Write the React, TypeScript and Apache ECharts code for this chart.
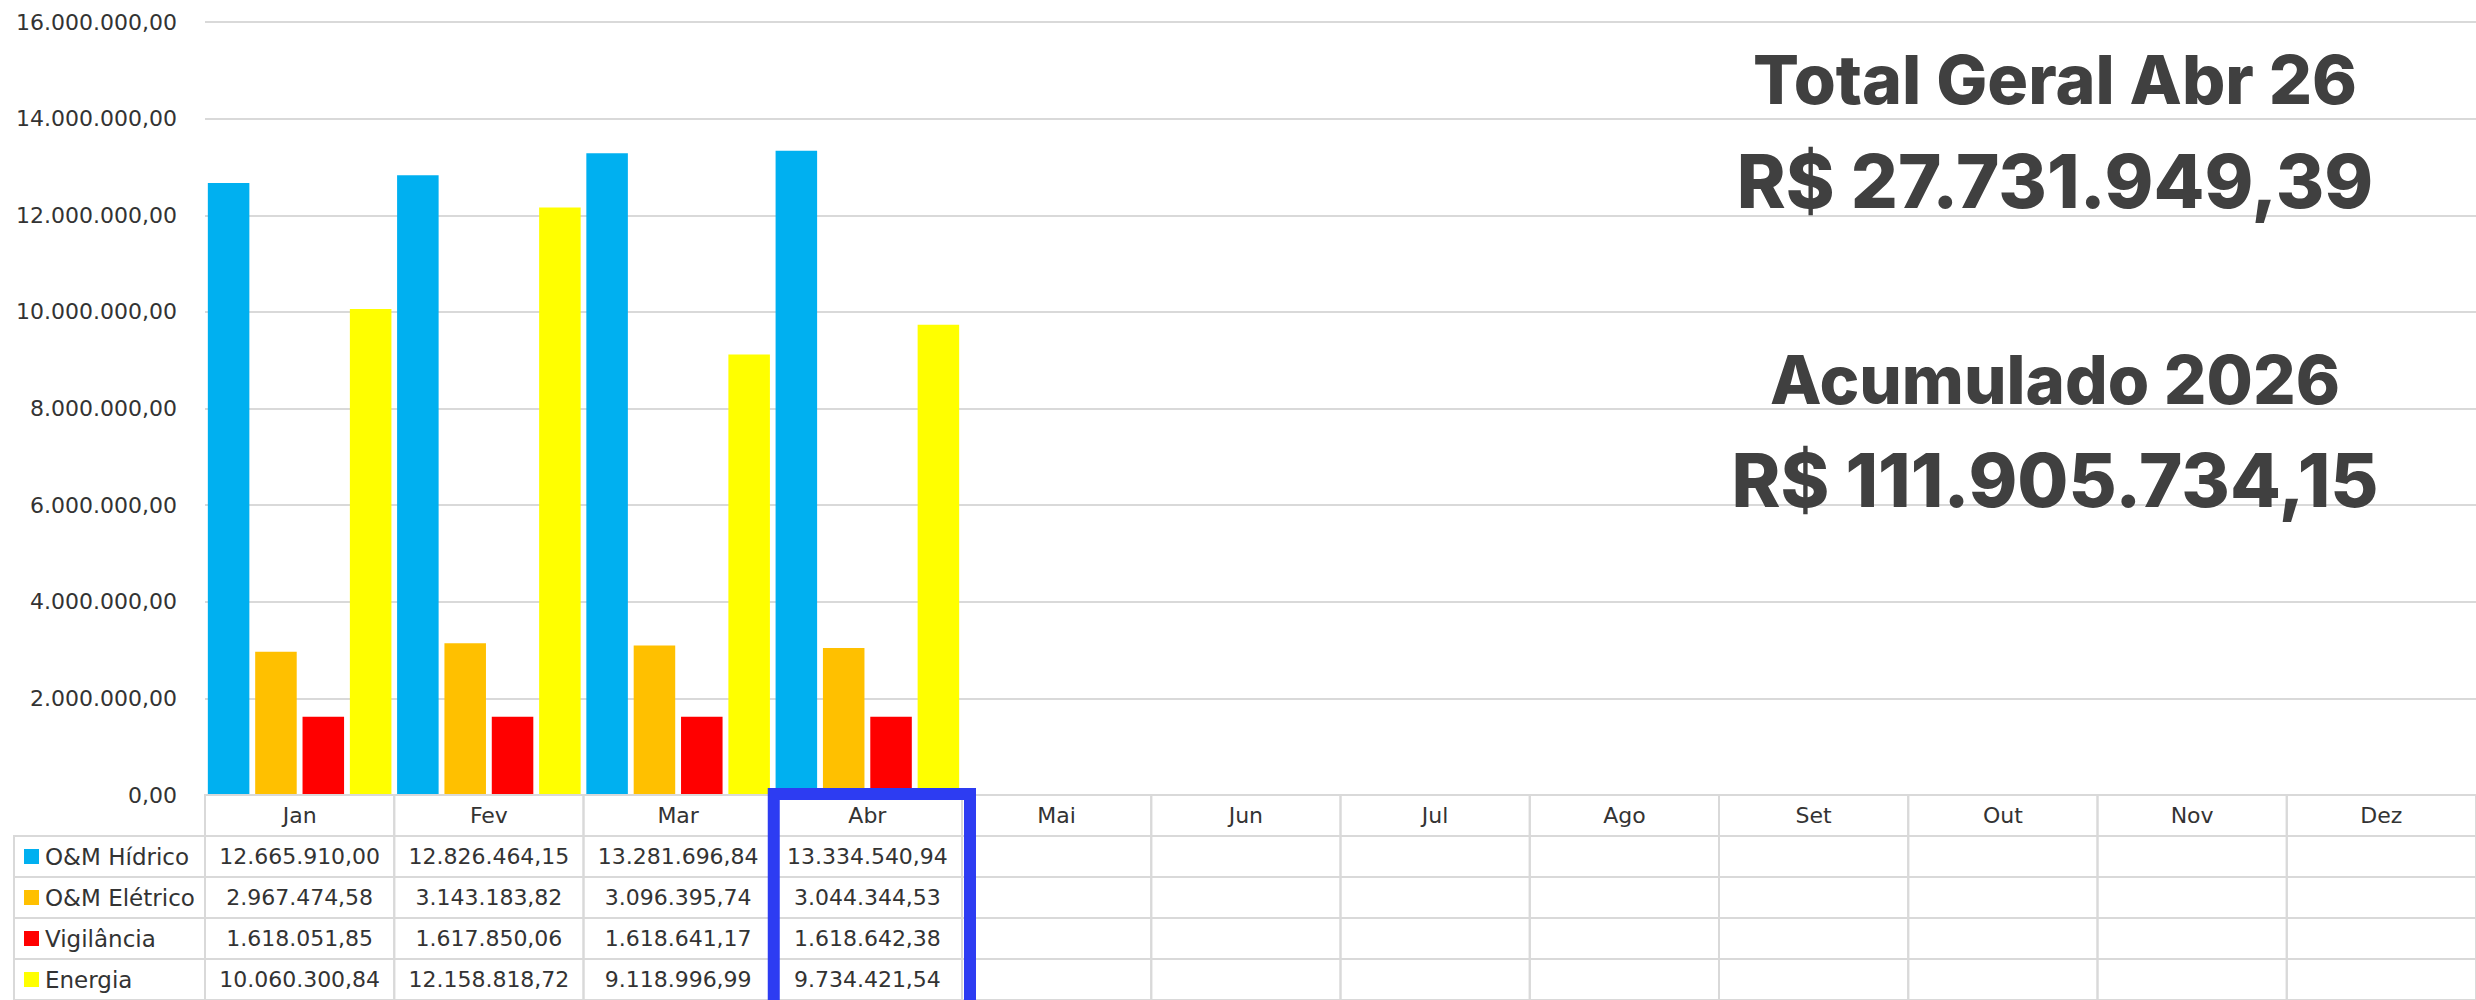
import React, { useEffect, useRef } from "react";
import * as echarts from "echarts";

const months = ["Jan", "Fev", "Mar", "Abr", "Mai", "Jun", "Jul", "Ago", "Set", "Out", "Nov", "Dez"];
const seriesNames = ["O&M Hídrico", "O&M Elétrico", "Vigilância", "Energia"];
const seriesColors = ["#00B0F0", "#FFC000", "#FF0000", "#FFFF00"];

const omHidrico = [12665910.0, 12826464.15, 13281696.84, 13334540.94, null, null, null, null, null, null, null, null];
const omEletrico = [2967474.58, 3143183.82, 3096395.74, 3044344.53, null, null, null, null, null, null, null, null];
const vigilancia = [1618051.85, 1617850.06, 1618641.17, 1618642.38, null, null, null, null, null, null, null, null];
const energia = [10060300.84, 12158818.72, 9118996.99, 9734421.54, null, null, null, null, null, null, null, null];

const yMin = 0;
const yMax = 16000000;
const yInterval = 2000000;

const highlightMonth = 3; // Abr
const totalTitle = "Total Geral Abr 26";
const accumTitle = "Acumulado 2026";

const allSeries = [omHidrico, omEletrico, vigilancia, energia];

function fmt(v: number): string {
  const [i, d] = Math.abs(v).toFixed(2).split(".");
  const int = i.replace(/\B(?=(\d{3})+(?!\d))/g, ".");
  return (v < 0 ? "-" : "") + int + "," + d;
}

const monthTotal = allSeries.reduce((s, arr) => s + (arr[highlightMonth] || 0), 0);
const accumTotal = allSeries.reduce((s, arr) => s + arr.reduce((a: number, b) => a + (b || 0), 0), 0);

const TEXT_FONT = "DejaVu Sans";
const GRID_COLOR = "#d9d9d9";

export default function App() {
  const ref = useRef<HTMLDivElement>(null);

  useEffect(() => {
    if (!ref.current) return;
    const chart = echarts.init(ref.current, null, { renderer: "svg" });

    const rows = ["", ...seriesNames];
    const cellData: number[][] = [];
    for (let r = 0; r < rows.length; r++) {
      for (let c = 0; c < months.length; c++) cellData.push([c, r]);
    }

    const bigText = (text: string, y: number, size: number) => ({
      type: "text",
      x: 2055,
      y,
      z: 100,
      style: {
        text,
        fill: "#404040",
        font: `800 ${size}px Inter`,
        textAlign: "center",
        verticalAlign: "middle",
      },
    });

    chart.setOption({
      animation: false,
      backgroundColor: "#ffffff",
      grid: [
        { left: 205, right: 0, top: 22, height: 773 },
        { left: 205, right: 0, top: 795, height: 205 },
      ],
      xAxis: [
        {
          type: "category",
          gridIndex: 0,
          data: months,
          axisLine: { show: false },
          axisTick: { show: false },
          axisLabel: { show: false },
        },
        {
          type: "category",
          gridIndex: 1,
          data: months,
          show: false,
        },
      ],
      yAxis: [
        {
          type: "value",
          gridIndex: 0,
          min: yMin,
          max: yMax,
          interval: yInterval,
          axisLine: { show: false },
          axisTick: { show: false },
          splitLine: { lineStyle: { color: GRID_COLOR, width: 2 } },
          axisLabel: {
            formatter: (v: number) => fmt(v),
            fontSize: 22,
            fontFamily: TEXT_FONT,
            color: "#333333",
            margin: 28,
          },
        },
        {
          type: "category",
          gridIndex: 1,
          data: rows,
          inverse: true,
          show: false,
        },
      ],
      series: [
        ...allSeries.map((arr, i) => ({
          type: "bar",
          name: seriesNames[i],
          xAxisIndex: 0,
          yAxisIndex: 0,
          data: arr,
          barGap: "14%",
          barCategoryGap: "3%",
          itemStyle: { color: seriesColors[i] },
        })),
        {
          type: "custom",
          xAxisIndex: 1,
          yAxisIndex: 1,
          data: cellData,
          renderItem: (params: any, api: any) => {
            const c = api.value(0);
            const r = api.value(1);
            const p = api.coord([c, r]);
            const sz = api.size([1, 1]);
            const w = sz[0];
            const h = sz[1];
            const x0 = p[0] - w / 2;
            const y0 = p[1] - h / 2;
            const children: any[] = [
              {
                type: "rect",
                shape: { x: x0, y: y0, width: w, height: h },
                style: { fill: "none", stroke: GRID_COLOR, lineWidth: 2 },
              },
            ];
            let txt = "";
            if (r === 0) txt = months[c];
            else {
              const v = allSeries[r - 1][c];
              txt = v == null ? "" : fmt(v);
            }
            if (txt) {
              children.push({
                type: "text",
                x: p[0],
                y: p[1],
                style: {
                  text: txt,
                  fill: "#333333",
                  font: `22px '${TEXT_FONT}'`,
                  textAlign: "center",
                  verticalAlign: "middle",
                },
              });
            }
            if (c === 0 && r > 0) {
              const legLeft = 14;
              children.push({
                type: "rect",
                shape: { x: legLeft, y: y0, width: x0 - legLeft, height: h },
                style: { fill: "none", stroke: GRID_COLOR, lineWidth: 2 },
              });
              children.push({
                type: "rect",
                shape: { x: legLeft + 10, y: p[1] - 7.5, width: 15, height: 15 },
                style: { fill: seriesColors[r - 1] },
              });
              children.push({
                type: "text",
                x: legLeft + 31,
                y: p[1],
                style: {
                  text: seriesNames[r - 1],
                  fill: "#333333",
                  font: `23px '${TEXT_FONT}'`,
                  textAlign: "left",
                  verticalAlign: "middle",
                },
              });
            }
            if (c === highlightMonth && r === 0) {
              children.push({
                type: "rect",
                z2: 100,
                shape: { x: x0 + 1, y: y0 - 1, width: w + 7, height: h * rows.length + 12 },
                style: { fill: "none", stroke: "#2D3CF2", lineWidth: 12 },
              });
            }
            return { type: "group", children };
          },
          z: 5,
        },
      ],
      graphic: {
        elements: [
          bigText(totalTitle, 79, 68),
          bigText("R$ " + fmt(monthTotal), 181, 74),
          bigText(accumTitle, 379, 67),
          bigText("R$ " + fmt(accumTotal), 480, 74),
        ],
      },
    });

    return () => chart.dispose();
  }, []);

  return (
    <div
      ref={ref}
      style={{ position: "absolute", left: 0, top: 0, width: 2476, height: 1000, background: "#fff" }}
    />
  );
}
